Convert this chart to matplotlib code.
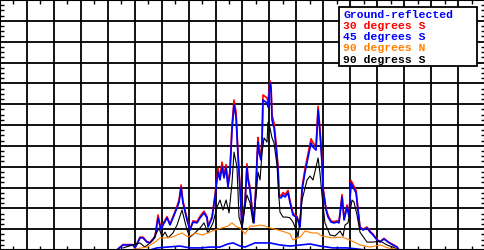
import numpy as np
import matplotlib
matplotlib.use("Agg")
import matplotlib.pyplot as plt
from matplotlib.ticker import MultipleLocator
from matplotlib.patches import Rectangle

# day of year / irradiance (W/m2)
dias_sul = [87.6, 91.3, 95.0, 98.7, 100.2, 103.9, 106.1, 109.1, 111.3, 115.1,
            117.3, 119.5, 121.0, 124.0, 126.2, 128.4, 131.4, 132.9, 134.4, 135.8,
            138.8, 141.0, 143.3, 146.2, 148.5, 151.4, 153.7, 154.4, 157.4, 159.6,
            161.8, 163.3, 164.8, 166.3, 167.8, 169.2, 170.7, 172.2, 173.7, 175.2,
            176.7, 178.2, 179.6, 181.9, 183.3, 184.1, 185.6, 187.1, 188.5, 190.0,
            190.8, 191.5, 192.3, 193.7, 194.5, 195.2, 198.2, 198.9, 200.4, 201.2,
            201.9, 203.4, 204.9, 206.4, 207.1, 208.6, 210.1, 211.6, 213.8, 215.3,
            217.5, 220.5, 222.7, 224.2, 226.4, 228.6, 230.9, 232.3, 234.6, 236.1,
            237.5, 239.0, 239.8, 242.0, 243.5, 245.7, 247.9, 250.2, 251.6, 253.9,
            255.4, 257.6, 259.1, 260.5, 262.0, 264.3, 265.7, 267.2, 269.5, 272.4,
            274.7, 276.9, 279.9, 282.1, 285.0, 288.0, 291.7, 294.7, 296.2]

s30 = [5, 26, 26, 26, 10, 62, 62, 40, 36, 66,
       168, 100, 126, 160, 124, 160, 210, 240, 312, 236,
       150, 100, 140, 136, 162, 186, 160, 114, 160, 266,
       392, 350, 422, 360, 410, 314, 384, 598, 720, 662,
       464, 300, 114, 236, 414, 350, 300, 200, 136, 316,
       450, 540, 486, 450, 536, 744, 730, 710, 812, 790,
       648, 610, 514, 400, 264, 260, 276, 266, 286, 236,
       176, 160, 114, 300, 390, 460, 534, 514, 500, 690,
       584, 436, 300, 200, 166, 140, 136, 140, 136, 266,
       150, 216, 166, 334, 316, 286, 200, 110, 100, 110,
       90, 76, 50, 40, 56, 40, 26, 15, 0]

s45 = [5, 24, 24, 24, 10, 58, 58, 38, 34, 62,
       154, 96, 120, 154, 120, 154, 202, 230, 298, 226,
       144, 96, 134, 130, 154, 178, 154, 110, 154, 254,
       374, 336, 398, 346, 394, 302, 370, 576, 696, 638,
       446, 288, 110, 226, 398, 336, 288, 192, 130, 302,
       432, 518, 466, 432, 514, 720, 706, 686, 802, 768,
       624, 586, 494, 384, 254, 250, 264, 254, 274, 226,
       168, 154, 110, 288, 374, 442, 514, 494, 480, 672,
       562, 418, 288, 192, 158, 134, 130, 134, 130, 254,
       144, 206, 158, 322, 302, 274, 192, 106, 96, 106,
       86, 72, 48, 38, 53, 38, 24, 14, 0]

dias_90s = [91.3, 103.9, 107.6, 113.6, 118.0, 120.3, 122.5, 124.7, 128.4, 131.4,
            135.1, 138.8, 141.0, 144.7, 148.5, 151.4, 154.4, 158.1, 161.1, 163.3,
            165.5, 167.8, 170.0, 172.2, 173.7, 175.9, 177.4, 179.6, 181.1, 183.3,
            185.6, 187.8, 190.0, 191.5, 193.0, 194.5, 196.0, 198.2, 198.9, 200.4,
            201.9, 203.4, 205.6, 207.8, 210.1, 213.0, 215.3, 217.5, 220.5, 221.2,
            224.2, 227.9, 230.1, 232.3, 234.6, 236.1, 237.5, 239.0, 241.2, 245.0,
            248.7, 252.4, 254.6, 256.1, 258.3, 261.3, 262.8, 265.0, 267.2, 272.4,
            276.9, 282.1, 287.3, 291.7, 294.7]
s90 = [10, 34, 14, 48, 106, 62, 86, 58, 82, 120,
       192, 96, 62, 82, 106, 130, 82, 130, 206, 240,
       192, 240, 178, 322, 470, 398, 158, 110, 178, 264,
       226, 130, 254, 374, 336, 466, 538, 518, 614, 586,
       538, 514, 408, 182, 158, 158, 154, 134, 86, 62,
       240, 336, 355, 336, 398, 442, 370, 264, 130, 72,
       67, 91, 67, 120, 130, 240, 230, 168, 86, 38,
       38, 43, 24, 14, 5]

dias_90n = [96.5, 100.2, 109.1, 115.1, 118.8, 122.5, 127.7, 131.4, 135.1, 139.6,
            144.7, 149.9, 154.4, 159.6, 164.8, 169.2, 172.2, 175.9, 178.2, 181.9,
            185.6, 189.3, 193.0, 196.7, 200.4, 206.4, 211.6, 215.3, 217.5, 222.7,
            226.4, 231.6, 235.3, 239.0, 246.4, 253.9, 259.8, 267.2, 274.7, 282.1,
            288.0, 293.2, 296.9]
n90 = [0, 5, 14, 38, 58, 58, 62, 72, 82, 62,
       82, 72, 82, 96, 106, 115, 130, 110, 106, 77,
       115, 115, 120, 115, 106, 96, 86, 77, 48, 62,
       91, 82, 82, 67, 58, 62, 48, 24, 14, 24,
       10, 5, 0]

dias_solo = [111.3, 116.5, 124.0, 133.6, 141.0, 148.5, 155.9, 163.3, 169.2, 173.0,
             178.2, 181.9, 189.3, 200.4, 207.8, 215.3, 222.7, 230.1, 237.5, 247.2,
             257.6, 265.0, 270.9]
solo = [0, 10, 14, 19, 10, 10, 14, 14, 29, 34,
        19, 14, 34, 34, 24, 19, 24, 29, 19, 10,
        10, 5, 0]

rotulos = ["Ground-reflected", "30 degrees S", "45 degrees S", "90 degrees N", "90 degress S"]
cores = ["#0000ff", "#ff0000", "#0000ff", "#ff8000", "#000000"]

fig = plt.figure(figsize=(4.85, 2.5), dpi=100)
ax = fig.add_axes([0, 0, 1, 1])

ax.plot(dias_sul, s30, color=cores[1], lw=1.2)
ax.plot(dias_sul, s45, color=cores[2], lw=1.2)
ax.plot(dias_90s, s90, color=cores[4], lw=0.8)
ax.plot(dias_90n, n90, color=cores[3], lw=0.8)
ax.plot(dias_solo, solo, color=cores[0], lw=1.2)

ax.set_xlim(0, 360)
ax.set_ylim(0, 1200)
ax.xaxis.set_major_locator(MultipleLocator(20))
ax.xaxis.set_minor_locator(MultipleLocator(10))
ax.yaxis.set_major_locator(MultipleLocator(100))
ax.yaxis.set_minor_locator(MultipleLocator(25))
ax.grid(True, which="major", color="black", lw=1.3)
ax.tick_params(which="both", direction="in", top=True, right=True,
               labelbottom=False, labelleft=False, color="black")
ax.tick_params(which="major", length=0)
ax.tick_params(which="minor", length=3, width=1)
for sp in ax.spines.values():
    sp.set_linewidth(1.5)

# legenda desenhada a mao (so texto colorido)
ax.add_patch(Rectangle((339 / 485, 1 - 66 / 250), 138 / 485, 59 / 250,
                       transform=ax.transAxes, facecolor="white",
                       edgecolor="black", lw=1.3, zorder=5))
for i, (rot, cor) in enumerate(zip(rotulos, cores)):
    ax.text(343 / 485, 1 - (17.5 + 11.3 * i) / 250, rot, color=cor,
            transform=ax.transAxes, va="baseline", ha="left",
            family="Liberation Mono", fontsize=8.2, weight="bold", zorder=6)

fig.savefig("out.png", dpi=100)
plt.close(fig)
